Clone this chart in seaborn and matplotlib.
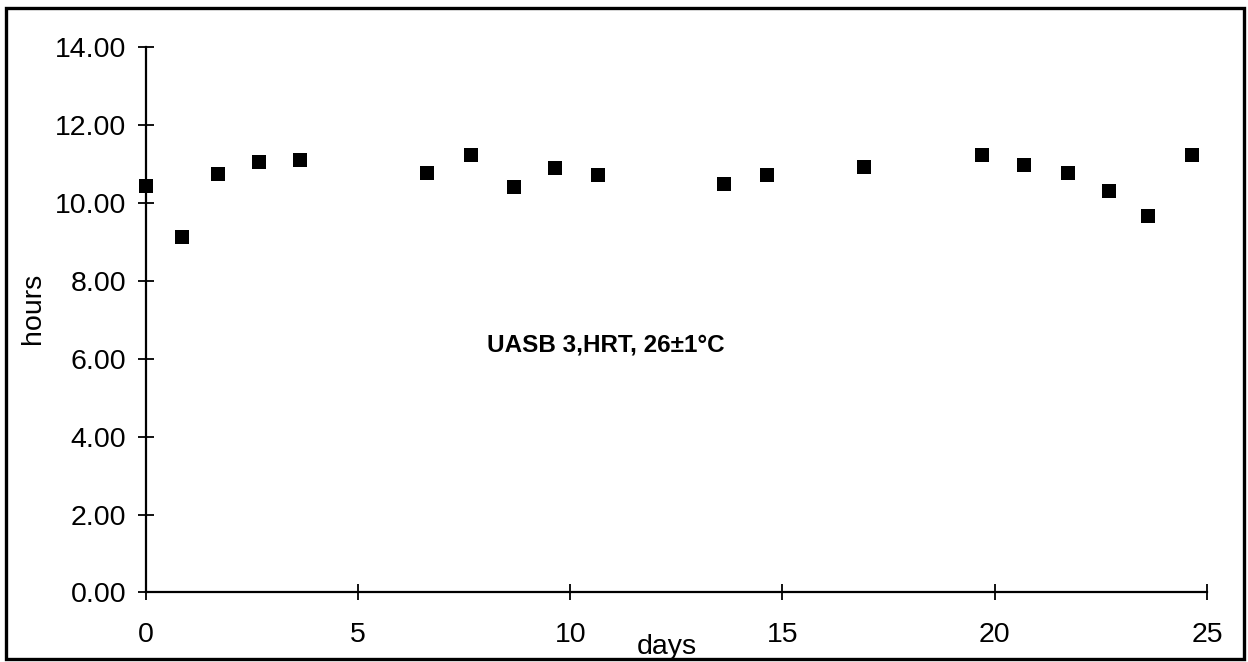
import matplotlib
matplotlib.use("Agg")
import matplotlib.pyplot as plt
import seaborn as sns
import pandas as pd
from matplotlib.patches import Rectangle
from matplotlib.ticker import FormatStrFormatter

days = [0.0, 0.86, 1.70, 2.67, 3.64, 6.62, 7.66, 8.68, 9.64, 10.65,
        13.62, 14.63, 16.91, 19.69, 20.68, 21.73, 22.68, 23.62, 24.65]
hours = [10.43, 9.12, 10.73, 11.03, 11.10, 10.76, 11.22, 10.39, 10.89, 10.71,
         10.47, 10.71, 10.92, 11.22, 10.96, 10.75, 10.30, 9.65, 11.23]
x_ticks = [0, 5, 10, 15, 20, 25]
y_ticks = [0, 2, 4, 6, 8, 10, 12, 14]
annotation = "UASB 3,HRT, 26\u00b11\u00b0C"

sns.set_theme(style="white")
plt.rcParams['font.family'] = ['Liberation Sans', 'DejaVu Sans']

df = pd.DataFrame({"days": days, "hours": hours})

fig = plt.figure(figsize=(12.48, 6.62), dpi=100)
ax = fig.add_axes([0.1167, 0.105, 0.9672 - 0.1167, 0.9295 - 0.105])

sns.scatterplot(data=df, x="days", y="hours", marker="s", s=95,
                color="black", linewidth=0, ax=ax, clip_on=False, zorder=5)

ax.set_xlim(0, 25)
ax.set_ylim(0, 14)
ax.set_xticks(x_ticks)
ax.set_yticks(y_ticks)
ax.yaxis.set_major_formatter(FormatStrFormatter("%.2f"))
ax.set_xlabel("")
ax.set_ylabel("")
for s in ["top", "right"]:
    ax.spines[s].set_visible(False)
for s in ["left", "bottom"]:
    ax.spines[s].set_color("black")
    ax.spines[s].set_linewidth(1.6)
ax.tick_params(axis="both", which="major", bottom=True, left=True,
               direction="inout", length=12, width=1.3,
               colors="black", labelsize=20.5)
ax.tick_params(axis="y", pad=8)
ax.tick_params(axis="x", pad=15)

ax.text(10.84, 6.36, annotation, ha="center", va="center",
        fontsize=17.5, fontweight="bold", color="black")

fig.text(667 / 1248, 1 - 647 / 662, "days", ha="center", va="center",
         fontsize=20.5, color="black")
fig.text(33 / 1248, 1 - 308 / 662, "hours", ha="center", va="center",
         rotation=90, fontsize=20.5, color="black")

fig.patches.append(Rectangle((6 / 1248, 3 / 662), 1238 / 1248, 651 / 662,
                             transform=fig.transFigure, fill=False,
                             edgecolor="black", linewidth=2.4))

fig.savefig("out.png", dpi=100)
